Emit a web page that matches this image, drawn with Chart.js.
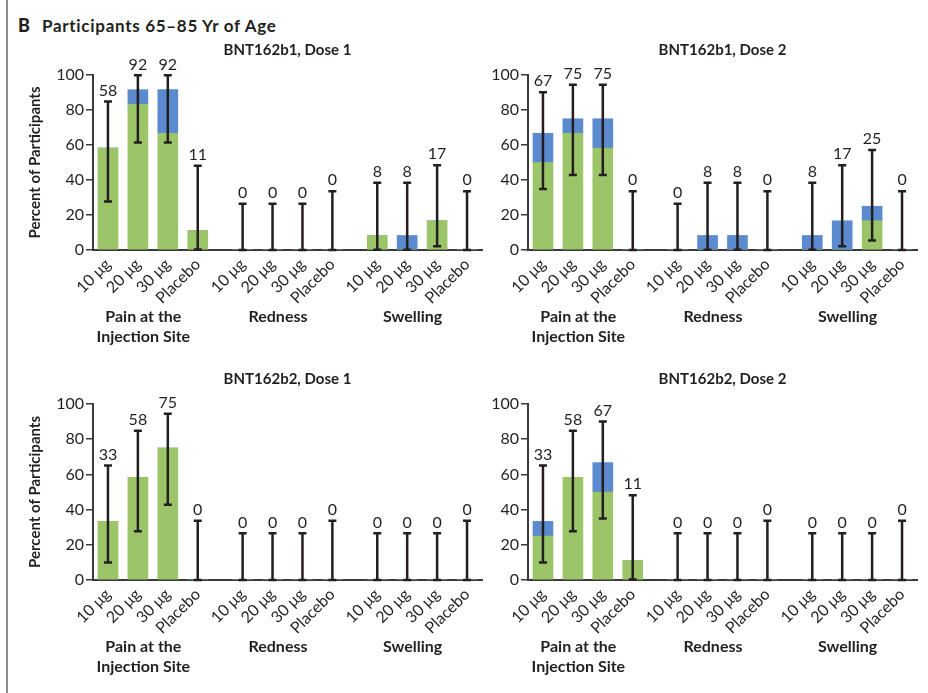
<!DOCTYPE html>
<html>
<head>
<meta charset="utf-8">
<script src="https://cdn.jsdelivr.net/npm/chart.js@4.4.1/dist/chart.umd.min.js"></script>
<style>
body{margin:0;background:#fff;}
#fig{position:relative;width:928px;height:693px;font-family:Lato,sans-serif;color:#231f20;overflow:hidden;}
#fig canvas{position:absolute;}
#rule{position:absolute;left:6px;top:0;width:2px;height:693px;background:#8c8c8c;}
#head{position:absolute;left:18px;top:14px;font-weight:bold;font-size:17px;line-height:22px;white-space:nowrap;}
#head b{font-weight:900;font-size:18px;display:inline-block;width:24px;}
#head span{letter-spacing:0.7px;}
</style>
</head>
<body>
<div id="fig">
  <div id="rule"></div>
  <div id="head"><b>B</b><span>Participants 65–85 Yr of Age</span></div>
  <canvas id="p1" width="490" height="320" style="left:0;top:30px"></canvas>
  <canvas id="p2" width="438" height="320" style="left:490px;top:30px"></canvas>
  <canvas id="p3" width="490" height="333" style="left:0;top:360px"></canvas>
  <canvas id="p4" width="438" height="333" style="left:490px;top:360px"></canvas>
</div>
<script>
// categories
const doseLabels=['10 μg','20 μg','30 μg','Placebo'];
const reactionLabels=[['Pain at the','Injection Site'],['Redness'],['Swelling']];

// BNT162b1, Dose 1  (order: pain x4, redness x4, swelling x4)
const b1d1Mild=[58.3,83.3,66.7,11.1, 0,0,0,0, 8.3,0,16.7,0];
const b1d1Moderate=[0,8.3,25.0,0, 0,0,0,0, 0,8.3,0,0];
const b1d1Pct=[58,92,92,11, 0,0,0,0, 8,8,17,0];
const b1d1Lower=[27.7,61.5,61.5,0.3, 0,0,0,0, 0.2,0.2,2.1,0];
const b1d1Upper=[84.8,99.8,99.8,48.2, 26.5,26.5,26.5,33.6, 38.5,38.5,48.4,33.6];

// BNT162b1, Dose 2
const b1d2Mild=[50.0,66.7,58.3,0, 0,0,0,0, 0,0,16.7,0];
const b1d2Moderate=[16.7,8.3,16.7,0, 0,8.3,8.3,0, 8.3,16.7,8.3,0];
const b1d2Pct=[67,75,75,0, 0,8,8,0, 8,17,25,0];
const b1d2Lower=[34.9,42.8,42.8,0, 0,0.2,0.2,0, 0.2,2.1,5.5,0];
const b1d2Upper=[90.1,94.5,94.5,33.6, 26.5,38.5,38.5,33.6, 38.5,48.4,57.2,33.6];

// BNT162b2, Dose 1
const b2d1Mild=[33.3,58.3,75.0,0, 0,0,0,0, 0,0,0,0];
const b2d1Moderate=[0,0,0,0, 0,0,0,0, 0,0,0,0];
const b2d1Pct=[33,58,75,0, 0,0,0,0, 0,0,0,0];
const b2d1Lower=[9.9,27.7,42.8,0, 0,0,0,0, 0,0,0,0];
const b2d1Upper=[65.1,84.8,94.5,33.6, 26.5,26.5,26.5,33.6, 26.5,26.5,26.5,33.6];

// BNT162b2, Dose 2
const b2d2Mild=[25.0,58.3,50.0,11.1, 0,0,0,0, 0,0,0,0];
const b2d2Moderate=[8.3,0,16.7,0, 0,0,0,0, 0,0,0,0];
const b2d2Pct=[33,58,67,11, 0,0,0,0, 0,0,0,0];
const b2d2Lower=[9.9,27.7,34.9,0.3, 0,0,0,0, 0,0,0,0];
const b2d2Upper=[65.1,84.8,90.1,48.2, 26.5,26.5,26.5,33.6, 26.5,26.5,26.5,33.6];

const GREEN='#9cc56a', BLUE='#5b8ace', INK='#231f20', AXIS='#3a3a3a';
Chart.defaults.font.family='Lato';
Chart.defaults.color=INK;

// slot position of each bar: 4 doses per reaction, 1.5-slot gap between reactions
const pos=[];
reactionLabels.forEach((_,g)=>doseLabels.forEach((_,d)=>pos.push(g*4.5+d)));

function makePanel(id,p){
  const annot={
    id:'annot',
    afterDatasetsDraw(chart){
      const {ctx,chartArea:a,scales:{x,y}}=chart;
      ctx.save();
      ctx.strokeStyle=INK;ctx.fillStyle=INK;ctx.lineWidth=2.5;
      ctx.font='16px Lato';ctx.textAlign='center';ctx.textBaseline='bottom';
      p.upper.forEach((u,i)=>{
        const px=x.getPixelForValue(pos[i]);
        const top=y.getPixelForValue(u), bot=y.getPixelForValue(p.lower[i]);
        ctx.beginPath();
        ctx.moveTo(px,bot);ctx.lineTo(px,top);
        ctx.moveTo(px-4,top);ctx.lineTo(px+4,top);
        ctx.moveTo(px-4,bot);ctx.lineTo(px+4,bot);
        ctx.stroke();
        ctx.fillText(String(p.pct[i]),px,top-3);
      });
      ctx.font='bold 15px Lato';ctx.textBaseline='middle';
      ctx.fillText(p.title,(a.left+a.right)/2,a.top-25);
      ctx.font='bold 16px Lato';
      reactionLabels.forEach((lines,g)=>{
        const cx=x.getPixelForValue(g*4.5+1.5)-9.5;
        lines.forEach((t,k)=>ctx.fillText(t,cx,a.bottom+67+k*20));
      });
      if(p.yTitle){
        ctx.font='bold 15px Lato';
        ctx.translate(35,(a.top+a.bottom)/2);
        ctx.rotate(-Math.PI/2);
        ctx.fillText(p.yTitle,0,0);
      }
      ctx.restore();
    }
  };
  return new Chart(document.getElementById(id),{
    type:'bar',
    data:{datasets:[
      {label:'Mild',data:pos.map((v,i)=>({x:v,y:p.mild[i]})),backgroundColor:GREEN,stack:'s',barThickness:20},
      {label:'Moderate',data:pos.map((v,i)=>({x:v,y:p.moderate[i]})),backgroundColor:BLUE,stack:'s',barThickness:20}
    ]},
    options:{
      responsive:false,animation:false,devicePixelRatio:1,
      layout:{padding:{top:p.top,right:p.right,left:0,bottom:0}},
      plugins:{legend:{display:false},tooltip:{enabled:false}},
      scales:{
        x:{type:'linear',min:-0.5,max:12.5,offset:false,
          afterBuildTicks:a=>{a.ticks=pos.map(v=>({value:v}));},
          afterFit:a=>{a.height=p.xh;},
          grid:{display:false,drawTicks:false,offset:false},
          border:{color:AXIS,width:2},
          ticks:{autoSkip:false,minRotation:45,maxRotation:45,padding:5,color:INK,
            font:{size:16},callback:(v,i)=>doseLabels[i%4]}},
        y:{min:0,max:100,stacked:true,
          afterFit:a=>{a.width=p.yw;},
          ticks:{stepSize:20,padding:2,color:INK,font:{size:16}},
          grid:{drawOnChartArea:false,tickLength:7,color:AXIS,lineWidth:1.5},
          border:{color:AXIS,width:2}}
      }
    },
    plugins:[annot]
  });
}

makePanel('p1',{title:'BNT162b1, Dose 1',yTitle:'Percent of Participants',mild:b1d1Mild,moderate:b1d1Moderate,pct:b1d1Pct,lower:b1d1Lower,upper:b1d1Upper,yw:93,right:8,top:45,xh:100});
makePanel('p2',{title:'BNT162b1, Dose 2',mild:b1d2Mild,moderate:b1d2Moderate,pct:b1d2Pct,lower:b1d2Lower,upper:b1d2Upper,yw:38,right:11,top:45,xh:100});
makePanel('p3',{title:'BNT162b2, Dose 1',yTitle:'Percent of Participants',mild:b2d1Mild,moderate:b2d1Moderate,pct:b2d1Pct,lower:b2d1Lower,upper:b2d1Upper,yw:93,right:8,top:44,xh:113});
makePanel('p4',{title:'BNT162b2, Dose 2',mild:b2d2Mild,moderate:b2d2Moderate,pct:b2d2Pct,lower:b2d2Lower,upper:b2d2Upper,yw:38,right:11,top:44,xh:113});
</script>
</body>
</html>
